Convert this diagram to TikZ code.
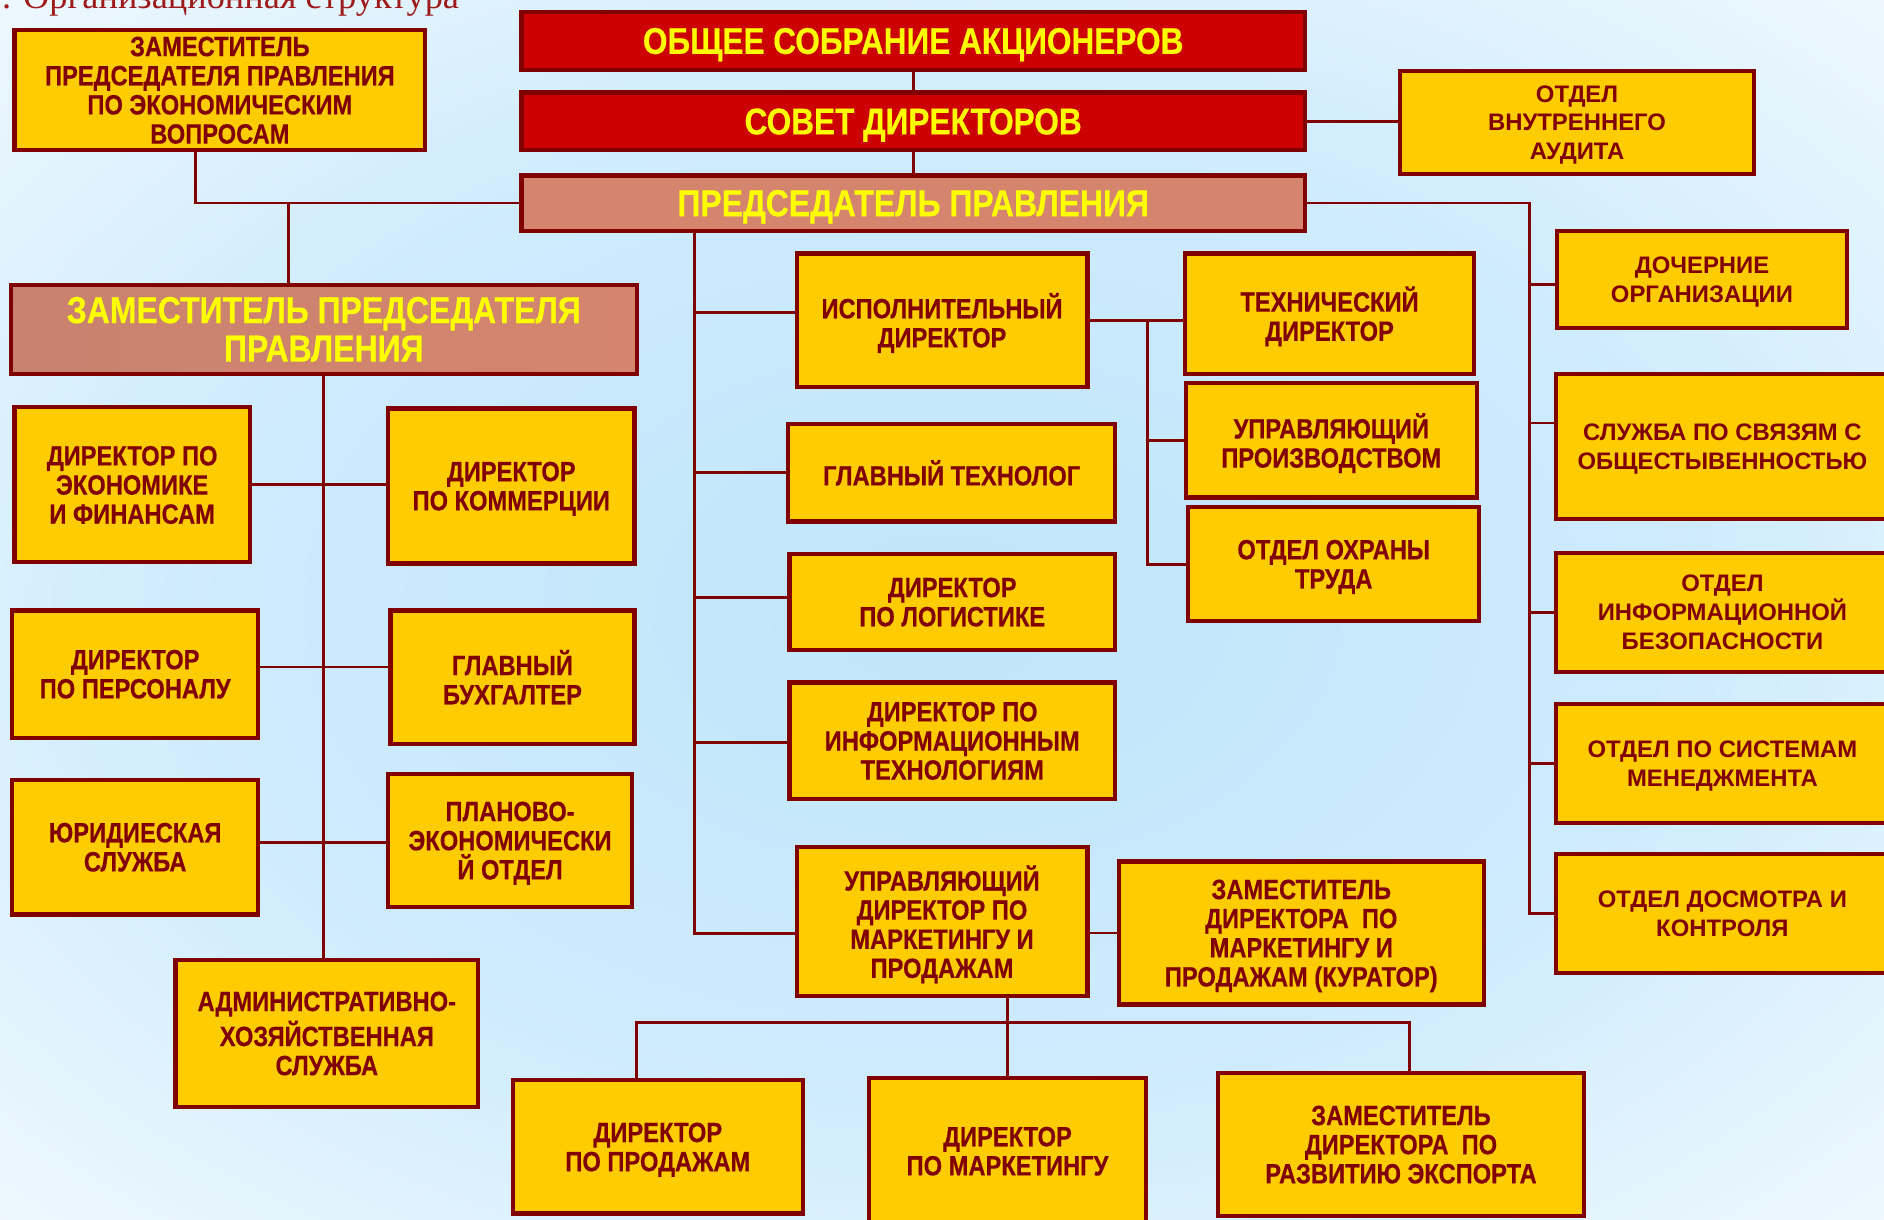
\documentclass[tikz,border=0pt]{standalone}
\usepackage{fontspec}
\setmainfont{Liberation Sans}
\newfontfamily\narrowfont[FakeStretch=0.85, BoldFeatures={FakeBold=0.4}]{Liberation Sans}
\newfontfamily\titlefont{Liberation Serif}

\definecolor{boxfill}{HTML}{FFCC00}
\definecolor{boxline}{HTML}{800000}
\definecolor{topred}{HTML}{CC0000}
\definecolor{topyellow}{HTML}{FFFF00}
\definecolor{headsalmon}{HTML}{D5856E}
\definecolor{headleft}{HTML}{C8826F}
\definecolor{headmid}{HTML}{DF8B70}
\definecolor{titlered}{HTML}{9E1B1B}
\definecolor{bgmid}{HTML}{BFE5FB}
\definecolor{bgout}{HTML}{8ED5FB}

\pgfdeclareradialshading{bgshade}{\pgfpoint{0bp}{0bp}}{%
  color(0bp)=(bgmid); color(20bp)=(bgmid!75!white); color(44bp)=(white);
  color(52bp)=(bgout!45!white); color(62bp)=(bgout!85!white); color(71bp)=(bgout)}

\tikzset{
  wh/.style 2 args={minimum width=#1cm, minimum height=#2cm},
  box/.style={draw=boxline, line width=1pt, fill=boxfill, text=boxline,
    align=center, inner sep=1pt, text depth=0pt,
    font=\narrowfont\bfseries\fontsize{6.6}{6.9}\selectfont},
  widebox/.style={box, font=\bfseries\fontsize{5.65}{6.8}\selectfont},
  topbox/.style={box, fill=topred, text=topyellow,
    font=\narrowfont\bfseries\fontsize{8.8}{9}\selectfont},
  headbox/.style={topbox, fill=headsalmon,
    font=\narrowfont\bfseries\fontsize{8.9}{9.1}\selectfont},
  link/.style={draw=boxline, line width=0.65pt},
}

\begin{document}
\begin{tikzpicture}
  \useasboundingbox (0,0) rectangle (15.68,-10.15);
  \clip (0,0) rectangle (15.68,-10.15);
  \shade[shading=bgshade] (0,0) rectangle (15.68,-10.15);

  \node[anchor=base west, inner sep=0pt, text=titlered,
    font=\titlefont\fontsize{8.6}{8.6}\selectfont] (title) at (0.01,-0.07)
    {. Организационная структура};

  % верхние органы
  \node[topbox, wh={6.52}{0.48}] (osa) at (7.60,-0.34) {ОБЩЕЕ СОБРАНИЕ АКЦИОНЕРОВ};
  \node[topbox, wh={6.52}{0.48}] (sd) at (7.60,-1.01) {СОВЕТ ДИРЕКТОРОВ};
  \node[headbox, wh={6.52}{0.46}] (pp) at (7.60,-1.69) {ПРЕДСЕДАТЕЛЬ ПРАВЛЕНИЯ};
  \node[widebox, wh={2.95}{0.86}] (audit) at (13.125,-1.02) {ОТДЕЛ\\ВНУТРЕННЕГО\\АУДИТА};
  \node[box, wh={3.42}{1.00}] (zamEk) at (1.83,-0.75)
    {ЗАМЕСТИТЕЛЬ\\ПРЕДСЕДАТЕЛЯ ПРАВЛЕНИЯ\\ПО ЭКОНОМИЧЕСКИМ\\ВОПРОСАМ};
  \node[headbox, wh={5.21}{0.74}, left color=headleft, middle color=headmid,
    right color=headsalmon] (zpp) at (2.695,-2.74) {ЗАМЕСТИТЕЛЬ ПРЕДСЕДАТЕЛЯ\\ПРАВЛЕНИЯ};

  % левая ветвь
  \node[box, wh={1.96}{1.29}] (dirEk) at (1.10,-4.035) {ДИРЕКТОР ПО\\ЭКОНОМИКЕ\\И ФИНАНСАМ};
  \node[box, wh={2.05}{1.29}] (dirKom) at (4.255,-4.045) {ДИРЕКТОР\\ПО КОММЕРЦИИ};
  \node[box, wh={2.05}{1.06}] (dirPers) at (1.125,-5.61) {ДИРЕКТОР\\ПО ПЕРСОНАЛУ};
  \node[box, wh={2.03}{1.11}] (glBuh) at (4.265,-5.635) {ГЛАВНЫЙ\\БУХГАЛТЕР};
  \node[box, wh={2.05}{1.12}] (yur) at (1.125,-7.05) {ЮРИДИЕСКАЯ\\СЛУЖБА};
  \node[box, wh={2.03}{1.11}] (plan) at (4.245,-6.995) {ПЛАНОВО-\\ЭКОНОМИЧЕСКИ\\Й ОТДЕЛ};
  \node[box, wh={2.52}{1.22}] (ahs) at (2.72,-8.60) {АДМИНИСТРАТИВНО-\\ХОЗЯЙСТВЕННАЯ\\СЛУЖБА};

  % средняя ветвь
  \node[box, wh={2.42}{1.11}] (ispDir) at (7.84,-2.665) {ИСПОЛНИТЕЛЬНЫЙ\\ДИРЕКТОР};
  \node[box, wh={2.41}{1.00}] (tehDir) at (11.065,-2.61) {ТЕХНИЧЕСКИЙ\\ДИРЕКТОР};
  \node[box, wh={2.42}{0.95}] (uprPr) at (11.08,-3.665) {УПРАВЛЯЮЩИЙ\\ПРОИЗВОДСТВОМ};
  \node[box, wh={2.42}{0.95}] (ohrana) at (11.10,-4.695) {ОТДЕЛ ОХРАНЫ\\ТРУДА};
  \node[box, wh={2.72}{0.81}] (glTeh) at (7.92,-3.935) {ГЛАВНЫЙ ТЕХНОЛОГ};
  \node[box, wh={2.71}{0.80}] (logist) at (7.925,-5.01) {ДИРЕКТОР\\ПО ЛОГИСТИКЕ};
  \node[box, wh={2.71}{0.97}] (itDir) at (7.925,-6.165) {ДИРЕКТОР ПО\\ИНФОРМАЦИОННЫМ\\ТЕХНОЛОГИЯМ};
  \node[box, wh={2.42}{1.24}] (uprMark) at (7.84,-7.67)
    {УПРАВЛЯЮЩИЙ\\ДИРЕКТОР ПО\\МАРКЕТИНГУ И\\ПРОДАЖАМ};
  \node[box, wh={3.04}{1.19}] (zamMark) at (10.83,-7.765)
    {ЗАМЕСТИТЕЛЬ\\ДИРЕКТОРА\ \ ПО\\МАРКЕТИНГУ И\\ПРОДАЖАМ (КУРАТОР)};
  \node[box, wh={2.41}{1.11}] (dirProd) at (5.475,-9.545) {ДИРЕКТОР\\ПО ПРОДАЖАМ};
  \node[box, wh={2.31}{1.22}] (dirMark) at (8.385,-9.58) {ДИРЕКТОР\\ПО МАРКЕТИНГУ};
  \node[box, wh={3.04}{1.19}] (zamExp) at (11.66,-9.525)
    {ЗАМЕСТИТЕЛЬ\\ДИРЕКТОРА\ \ ПО\\РАЗВИТИЮ ЭКСПОРТА};

  % правая ветвь
  \node[widebox, wh={2.41}{0.81}] (doch) at (14.165,-2.325) {ДОЧЕРНИЕ\\ОРГАНИЗАЦИИ};
  \node[widebox, wh={2.77}{1.21}] (sluzhba) at (14.335,-3.715) {СЛУЖБА ПО СВЯЗЯМ С\\ОБЩЕСТЫВЕННОСТЬЮ};
  \node[widebox, wh={2.77}{0.99}] (infBez) at (14.335,-5.095) {ОТДЕЛ\\ИНФОРМАЦИОННОЙ\\БЕЗОПАСНОСТИ};
  \node[widebox, wh={2.77}{0.99}] (sist) at (14.335,-6.355) {ОТДЕЛ ПО СИСТЕМАМ\\МЕНЕДЖМЕНТА};
  \node[widebox, wh={2.77}{0.99}] (dosm) at (14.335,-7.605) {ОТДЕЛ ДОСМОТРА И\\КОНТРОЛЯ};

  % связи верхних органов
  \draw[link] (osa) -- (sd);
  \draw[link] (sd) -- (pp);
  \draw[link] (sd.east) -- (sd.east -| audit.west);
  \draw[link] (pp.west) -| ([xshift=-2mm]zamEk.south);
  \coordinate (zppTop) at (2.40,-1.69);
  \draw[link] (zppTop) -- (zppTop |- zpp.north);

  % левая ветвь
  \draw[link] (zpp.south) -- (zpp.south |- ahs.north);
  \foreach \l/\r/\dy in {dirEk/dirKom/0, dirPers/glBuh/0.6, yur/plan/0.4}
    \draw[link] ([yshift=\dy mm]\l.east) -- ([yshift=\dy mm]\l.east -| \r.west);

  % средняя ветвь
  \coordinate (trunk) at (5.78,-1.69);
  \coordinate (umL) at ([yshift=-1mm]uprMark.west);
  \draw[link] (trunk |- pp.south) |- (umL);
  \foreach \n/\dy in {ispDir/0.65, glTeh/0, logist/0.4, itDir/-0.15}
    \draw[link] ([yshift=\dy mm]\n.west -| trunk) -- ([yshift=\dy mm]\n.west);
  \draw[link] (ispDir.east) -- (ispDir.east -| tehDir.west);
  \coordinate (tech) at (9.55,-2.665);
  \draw[link] (tech) |- (ohrana.west);
  \draw[link] (tech |- uprPr.west) -- (uprPr.west);
  \draw[link] (zamMark.west -| uprMark.east) -- (zamMark.west);

  % отделы маркетинга и продаж
  \coordinate (bus) at (8.38,-8.51);
  \draw[link] (dirMark.north |- uprMark.south) -- (dirMark.north);
  \draw[link] ([xshift=-1.75mm]dirProd.north) |- (bus) -| ([xshift=0.7mm]zamExp.north);

  % правая ветвь
  \coordinate (rbus) at (12.73,-1.69);
  \draw[link] (pp.east) -- (rbus) |- (dosm.west);
  \foreach \n/\dy in {doch/-0.45, sluzhba/1.95, infBez/0, sist/0}
    \draw[link] ([yshift=\dy mm]\n.west -| rbus) -- ([yshift=\dy mm]\n.west);
\end{tikzpicture}
\end{document}
